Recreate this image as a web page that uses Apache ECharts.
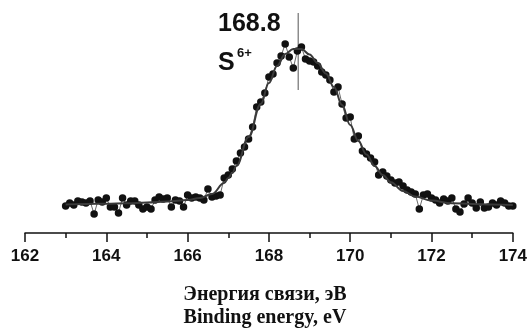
<!DOCTYPE html>
<html>
<head>
<meta charset="utf-8">
<script src="https://cdn.jsdelivr.net/npm/echarts@6/dist/echarts.min.js"></script>
<style>html,body{margin:0;padding:0;background:#fff;}#c{width:530px;height:329px;}</style>
</head>
<body>
<div id="c"></div>
<script>
// Binding energy grid (eV)
const energyStart = 163.0;
const energyStep = 0.1;
// Measured intensities (arbitrary units), one per energy step from 163.0 to 174.0
const intensity = [27,30,28,32,31,30,32,19,33,31,35,26,26,20,35,28,32,32,28,24,
  26,24,33,36,34,35,26,33,32,26,38,35,36,35,33,44,36,37,38,55,
  58,64,72,80,86,94,106,126,131,140,156,159,170,177,189,176,165,182,186,174,
  172,171,167,161,158,153,141,146,129,115,116,94,97,82,79,75,71,58,61,57,
  53,50,51,47,43,41,39,24,38,39,35,33,30,34,32,35,24,21,29,35,
  30,25,31,25,26,30,28,32,30,27,27];
// Fitted envelope
const fitX = [163.0,163.5,164.0,164.5,165.0,165.5,166.0,166.3,166.6,166.9,167.0,167.1,167.2,167.5,167.8,168.0,168.2,168.4,168.6,168.8,169.0,169.2,169.4,169.6,169.8,170.0,170.2,170.4,170.6,170.8,171.0,171.3,171.6,172.0,172.5,173.0,173.5,174.0];
const fitY = [28.5,29,29.3,29.8,30.4,31.4,33,35,39,50,55,60,67,96,129,150,167,179,184,184,178.5,170,159.5,146,128,108,92,78.5,67,58,50.7,42,36.5,32.4,29.8,29,28.5,28];
// Peak position marker
const peakX = 168.72;
const peakLine = [143, 220];
const xTicks = {min: 162, max: 174, step: 2};
const peakLabel = '168.8';
const speciesLabel = 'S';
const speciesCharge = '6+';
const axisTitleRu = 'Энергия связи, эВ';
const axisTitleEn = 'Binding energy, eV';

const points = intensity.map((v, i) => [+(energyStart + energyStep * i).toFixed(2), v]);
const fit = fitX.map((x, i) => [x, fitY[i]]);

const chart = echarts.init(document.getElementById('c'), null, {renderer: 'canvas'});
chart.setOption({
  animation: false,
  backgroundColor: '#fff',
  grid: {left: 25, right: 15, top: 0, bottom: 96},
  xAxis: {
    type: 'value', min: xTicks.min, max: xTicks.max, interval: xTicks.step,
    axisLine: {show: true, onZero: false, lineStyle: {color: '#111', width: 1.5}},
    axisTick: {show: true, length: 9, lineStyle: {color: '#111', width: 1.5}},
    minorTick: {show: true, splitNumber: 2, length: 5, lineStyle: {color: '#111', width: 1.5}},
    splitLine: {show: false},
    axisLabel: {fontFamily: '"Liberation Sans", Arial', fontWeight: 'bold', fontSize: 17, color: '#111', margin: 15}
  },
  yAxis: {type: 'value', min: 0, max: 233, show: false},
  graphic: [
    {type: 'text', x: 218, y: 24, style: {text: peakLabel, verticalAlign: 'middle', align: 'left', font: 'bold 25px "Liberation Sans"', fill: '#111'}},
    {type: 'text', x: 218, y: 63.5, style: {text: speciesLabel, verticalAlign: 'middle', align: 'left', font: 'bold 25px "Liberation Sans"', fill: '#111'}},
    {type: 'text', x: 237, y: 53, style: {text: speciesCharge, verticalAlign: 'middle', align: 'left', font: 'bold 13px "Liberation Sans"', fill: '#111'}},
    {type: 'text', x: 265, y: 295, style: {text: axisTitleRu, verticalAlign: 'middle', align: 'center', font: 'bold 20px "Liberation Serif"', fill: '#111'}},
    {type: 'text', x: 265, y: 318, style: {text: axisTitleEn, verticalAlign: 'middle', align: 'center', font: 'bold 20px "Liberation Serif"', fill: '#111'}}
  ],
  series: [
    {
      type: 'line', data: [[peakX, peakLine[0]], [peakX, peakLine[1]]],
      showSymbol: false, symbol: 'none', lineStyle: {color: '#555', width: 1}, z: 1
    },
    {
      type: 'line', data: points, symbol: 'circle', symbolSize: 7.5, showSymbol: true,
      lineStyle: {color: '#444', width: 0.8}, itemStyle: {color: '#111'}, z: 2
    },
    {
      type: 'line', data: fit, symbol: 'none', smooth: 0.4, smoothMonotone: 'x',
      lineStyle: {color: '#3a3a3a', width: 2}, z: 3
    }
  ]
});
</script>
</body>
</html>
